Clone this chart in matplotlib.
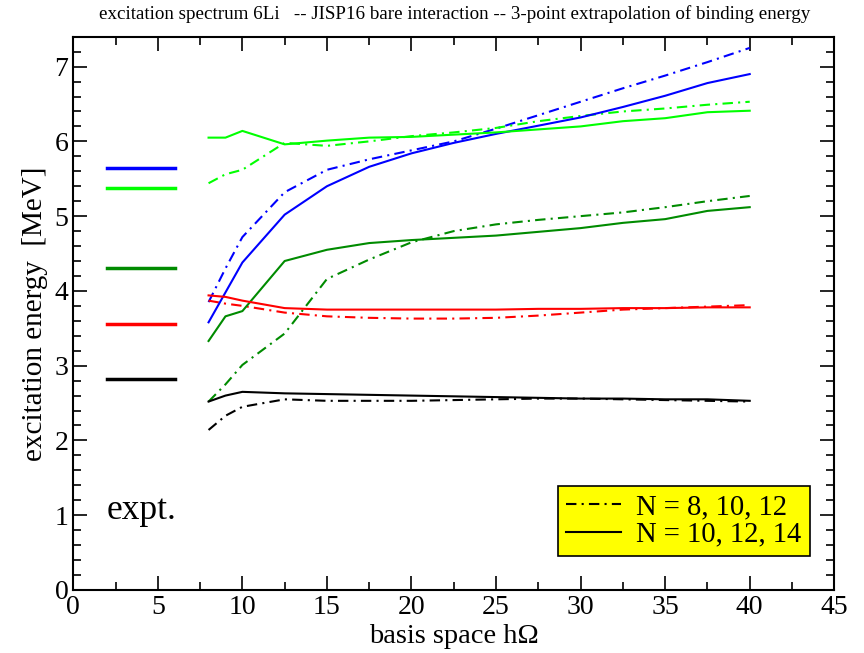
import numpy as np
import matplotlib
matplotlib.use("Agg")
import matplotlib.pyplot as plt
from matplotlib.lines import Line2D

# basis space hOmega
hw = [8, 9, 10, 12.5, 15, 17.5, 20, 22.5, 25, 27.5, 30, 32.5, 35, 37.5, 40]

# N = 10, 12, 14 (solid)
blue_14 = [3.58, 3.98, 4.38, 5.02, 5.40, 5.66, 5.84, 5.98, 6.10, 6.21, 6.32, 6.46, 6.61, 6.78, 6.90]
lgreen_14 = [6.05, 6.05, 6.14, 5.96, 6.01, 6.05, 6.06, 6.09, 6.12, 6.16, 6.20, 6.27, 6.31, 6.39, 6.41]
dgreen_14 = [3.33, 3.66, 3.73, 4.40, 4.55, 4.64, 4.68, 4.71, 4.74, 4.79, 4.84, 4.91, 4.96, 5.07, 5.12]
red_14 = [3.94, 3.92, 3.87, 3.77, 3.75, 3.75, 3.75, 3.75, 3.75, 3.76, 3.76, 3.77, 3.77, 3.78, 3.78]
black_14 = [2.52, 2.60, 2.65, 2.63, 2.62, 2.61, 2.60, 2.59, 2.58, 2.57, 2.56, 2.56, 2.55, 2.55, 2.53]

# N = 8, 10, 12 (dash-dot)
blue_12 = [3.85, 4.30, 4.72, 5.32, 5.62, 5.76, 5.88, 6.00, 6.17, 6.35, 6.53, 6.71, 6.88, 7.06, 7.25]
lgreen_12 = [5.44, 5.56, 5.62, 5.98, 5.94, 6.00, 6.07, 6.12, 6.18, 6.27, 6.34, 6.40, 6.44, 6.49, 6.53]
dgreen_12 = [2.52, 2.75, 3.01, 3.43, 4.16, 4.42, 4.65, 4.80, 4.89, 4.95, 5.00, 5.05, 5.12, 5.20, 5.27]
red_12 = [3.87, 3.83, 3.80, 3.71, 3.66, 3.64, 3.63, 3.63, 3.64, 3.67, 3.71, 3.75, 3.77, 3.79, 3.81]
black_12 = [2.14, 2.33, 2.45, 2.55, 2.53, 2.53, 2.53, 2.54, 2.55, 2.56, 2.56, 2.55, 2.54, 2.53, 2.52]

# experimental levels
expt = [5.65, 5.37, 4.31, 3.56, 2.82]
colors = ["#0000ff", "#00ff00", "#008b00", "#ff0000", "#000000"]

plt.rcParams['font.family'] = ['Liberation Serif', 'DejaVu Serif']

fig = plt.figure(figsize=(8.64, 6.53), dpi=100)
ax = fig.add_axes([0.0848, 0.0965, 0.8808, 0.8473])

dashdot = (0, (5, 2.5, 1, 2.5))
solid_sets = [blue_14, lgreen_14, dgreen_14, red_14, black_14]
dash_sets = [blue_12, lgreen_12, dgreen_12, red_12, black_12]

for c, ys in zip(colors, dash_sets):
    ax.plot(hw, ys, color=c, lw=1.5, linestyle=dashdot)
for c, ys in zip(colors, solid_sets):
    ax.plot(hw, ys, color=c, lw=1.5)

# experiment bars
for c, e in zip(colors, expt):
    ax.plot([2, 6], [e, e], color=c, lw=2.5)

ax.text(1.95, 1.06, "expt.", fontsize=25.5, va='center', ha='left')

ax.set_xlim(0, 45)
ax.set_ylim(0, 7.4)
ax.set_xticks(np.arange(0, 46, 5))
ax.set_xticks(np.arange(0, 45.1, 2.5), minor=True)
ax.set_yticks(np.arange(0, 8, 1))
ax.set_yticks(np.arange(0, 7.41, 0.2), minor=True)
ax.tick_params(which='both', direction='in', top=True, right=True, width=1.2, labelsize=20)
ax.tick_params(which='major', length=10)
ax.tick_params(which='minor', length=5.5)
for s in ax.spines.values():
    s.set_linewidth(1.5)

ax.set_xlabel("basis space h\u03a9", fontsize=20.5, labelpad=3)
ax.set_ylabel("excitation energy  [MeV]", fontsize=21, labelpad=5)

fig.text(0.526, 0.978,
         "excitation spectrum 6Li   -- JISP16 bare interaction -- 3-point extrapolation of binding energy",
         fontsize=13.7, ha='center', va='center')

handles = [Line2D([], [], color='black', lw=1.5, linestyle=dashdot),
           Line2D([], [], color='black', lw=1.5)]
leg = ax.legend(handles, ["N = 8, 10, 12", "N = 10, 12, 14"], loc='upper left',
                bbox_to_anchor=(557.7 / 864, 1 - 485.7 / 653), bbox_transform=fig.transFigure,
                fontsize=20.6, fancybox=False, framealpha=1, facecolor='yellow', edgecolor='black',
                handlelength=1.9, handletextpad=0.55, borderpad=0.3, labelspacing=0.05, borderaxespad=0)
leg.get_frame().set_linewidth(1.2)

fig.savefig("out.png", dpi=100)
